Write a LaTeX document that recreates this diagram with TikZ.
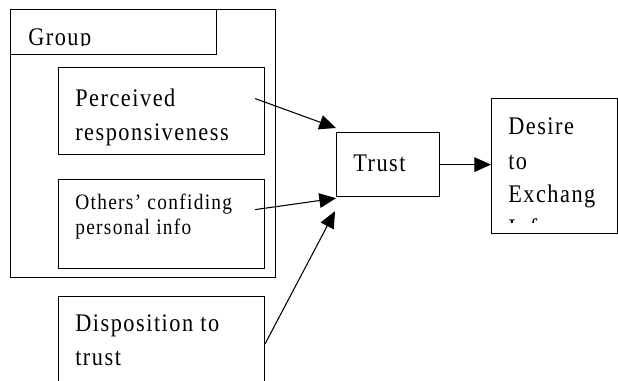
\documentclass[tikz,border=0pt]{standalone}
\usepackage{fontspec}
\setmainfont{Liberation Serif}[FakeStretch=0.88,LetterSpace=6]
\usetikzlibrary{arrows.meta}

\tikzset{
  box/.style={draw, line width=0.9pt, inner sep=0pt, anchor=north west},
  txt/.style={anchor=base west, align=left, inner sep=0pt,
    font=\fontsize{19}{25.5}\selectfont},
  smalltxt/.style={txt, font=\fontsize{16.5}{18.75}\selectfont},
  arr/.style={-{Triangle[length=12.5pt,width=11pt]}, line width=0.8pt},
}

\begin{document}
\begin{tikzpicture}[x=0.75pt, y=-0.75pt]
  \useasboundingbox (0,0) rectangle (618,381);
  \clip (0,0) rectangle (618,381);

  % group frame and its tab
  \node[box, minimum width=198.75pt, minimum height=201pt] (group) at (10,9) {};
  \node[box, minimum width=154.5pt, minimum height=33.75pt] (tab) at (10,9) {};
  \begin{scope}
    \clip (10,9) rectangle (216,46);
    \node[txt] (tab-t) at (28,46) {Group};
  \end{scope}

  % inner boxes (text placed by its last baseline)
  \node[box, minimum width=154.5pt, minimum height=65.25pt] (perc) at (58,67) {};
  \node[txt] (perc-t) at (75,141) {Perceived\\responsiveness};

  \node[box, minimum width=154.5pt, minimum height=66.75pt] (conf) at (58,179) {};
  \node[smalltxt] (conf-t) at (75,234) {Others' confiding\\personal info};

  \node[box, minimum width=154.5pt, minimum height=93pt] (disp) at (58,296) {};
  \node[txt] (disp-t) at (75,365) {Disposition to\\trust};

  % trust and outcome
  \node[box, minimum width=77.25pt, minimum height=48pt] (trust) at (336,132) {};
  \node[txt] (trust-t) at (353,172) {Trust};

  \node[box, minimum width=94.5pt, minimum height=101.25pt] (desire) at (491,98) {};
  \begin{scope}
    \clip (491,98) rectangle (617,223);
    \node[txt] (desire-t) at (508,237) {Desire\\to\\Exchang\\Info};
  \end{scope}

  % arrows
  \draw[arr] ([shift={(-10,-12.5)}]perc.east) -- ([shift={(0,-4)}]trust.north west);
  \draw[arr] ([shift={(-10,-14.5)}]conf.east) -- ([shift={(0,1)}]trust.south west);
  \draw[arr] ([shift={(0,-15)}]disp.east) -- ([shift={(-1,14)}]trust.south west);
  \draw[arr] (trust.east) -- (trust.east -| desire.west);
\end{tikzpicture}
\end{document}
